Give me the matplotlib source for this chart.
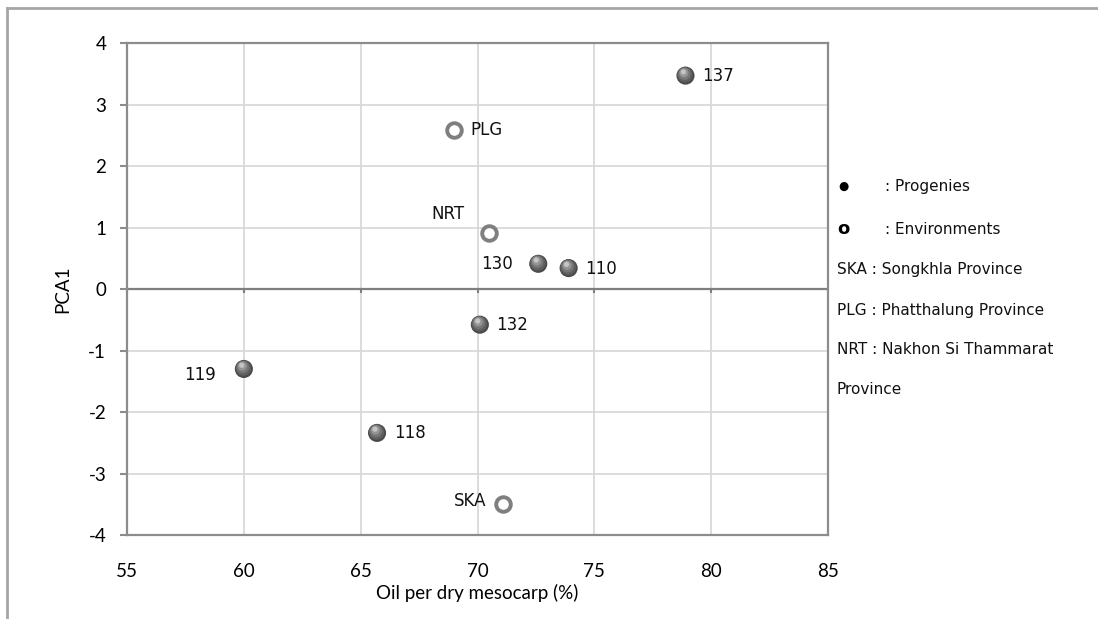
import matplotlib
matplotlib.use('Agg')
from matplotlib import pyplot as plt
from matplotlib.lines import Line2D

# progenies
prog_names = ['137', '130', '110', '132', '119', '118']
prog_oil = [78.9, 72.6, 73.9, 70.1, 60.0, 65.7]
prog_pca = [3.47, 0.41, 0.34, -0.58, -1.30, -2.34]

# environments
env_names = ['PLG', 'NRT', 'SKA']
env_oil = [69.0, 70.5, 71.1]
env_pca = [2.59, 0.91, -3.5]

x_ticks = [55, 60, 65, 70, 75, 80, 85]
y_ticks = [-4, -3, -2, -1, 0, 1, 2, 3, 4]

legend_lines = [': Progenies', ': Environments', 'SKA : Songkhla Province',
                'PLG : Phatthalung Province', 'NRT : Nakhon Si Thammarat', 'Province']

plt.rcParams['font.family'] = ['Lato', 'DejaVu Sans']
plt.rcParams['axes.unicode_minus'] = False
fig = plt.figure(figsize=(10.98, 6.19), dpi=100)
ax = fig.add_axes([0.1157, 0.1357, 0.6384, 0.7948])

grey = '#8c8c8c'
ax.set_xlim(55, 85)
ax.set_ylim(-4, 4)
ax.set_xticks(x_ticks)
ax.set_yticks(y_ticks)
ax.grid(True, color='#d9d9d9', linewidth=1.3)
ax.set_axisbelow(True)
for s in ax.spines.values():
    s.set_color(grey)
    s.set_linewidth(1.6)
ax.tick_params(axis='x', length=0, pad=20, labelsize=13.5)
ax.tick_params(axis='y', length=5, width=1.5, color=grey, pad=10, labelsize=13.5)

# horizontal axis line at 0 with small tick marks
ax.axhline(0, color='#7f7f7f', linewidth=1.6, zorder=1.5)
ax.vlines(x_ticks, -0.07, 0, color='#7f7f7f', linewidth=1.5, zorder=1.5)

ax.set_xlabel('Oil per dry mesocarp (%)', fontsize=13.5, labelpad=3)
ax.set_ylabel('PCA1', fontsize=13.5, labelpad=12)

# shaded spheres for progenies
shades = [('#4a4a4a', 170), ('#5f5f5f', 125), ('#767676', 80), ('#959595', 42), ('#c4c4c4', 14)]
for i, (c, s) in enumerate(shades):
    off = 0.015 * i
    ax.scatter([v - off * 1.5 for v in prog_oil], [v + off for v in prog_pca], s=s, c=c,
               edgecolors='none', zorder=3 + i * 0.1)

ax.scatter(env_oil, env_pca, s=110, facecolors='white', edgecolors='#7f7f7f',
           linewidths=2.8, zorder=3)

txt = dict(fontsize=12, family=['DejaVu Sans'], color='#111111')
prog_off = {'137': (12, 0), '130': (-18, 0), '110': (12, -1), '132': (12, 0),
            '119': (-20, -4), '118': (12, 0)}
for n, x, y in zip(prog_names, prog_oil, prog_pca):
    dx, dy = prog_off[n]
    ha = 'left' if dx > 0 else 'right'
    ax.annotate(n, (x, y), xytext=(dx, dy), textcoords='offset points', ha=ha, va='center', **txt)

env_off = {'PLG': (12, 0, 'left'), 'NRT': (-18, 14, 'right'), 'SKA': (-12, 2, 'right')}
for n, x, y in zip(env_names, env_oil, env_pca):
    dx, dy, ha = env_off[n]
    ax.annotate(n, (x, y), xytext=(dx, dy), textcoords='offset points', ha=ha, va='center', **txt)

# side legend text
fig.text(843 / 1098, 1 - 186 / 619, '\u25cf', fontsize=8.5, ha='center', va='center', color='black',
         family=['DejaVu Sans'])
fig.text(843 / 1098, 1 - 229 / 619, 'o', fontsize=13, fontweight='bold', ha='center', va='center',
         family=['DejaVu Sans'])
leg_y = [187, 229, 270, 310, 350, 390]
leg_x = [885, 885, 837, 837, 837, 837]
for t, xx, yy in zip(legend_lines, leg_x, leg_y):
    fig.text(xx / 1098, 1 - yy / 619, t, fontsize=11, family=['DejaVu Sans'],
             ha='left', va='center', color='#111111')

# outer chart frame
frame_c = '#a6a6a6'
fig.add_artist(Line2D([7 / 1098, 7 / 1098], [-0.01, 1 - 8 / 619], color=frame_c, lw=2))
fig.add_artist(Line2D([7 / 1098, 1.01], [1 - 8 / 619, 1 - 8 / 619], color=frame_c, lw=2))

fig.savefig('out.png', dpi=100)
